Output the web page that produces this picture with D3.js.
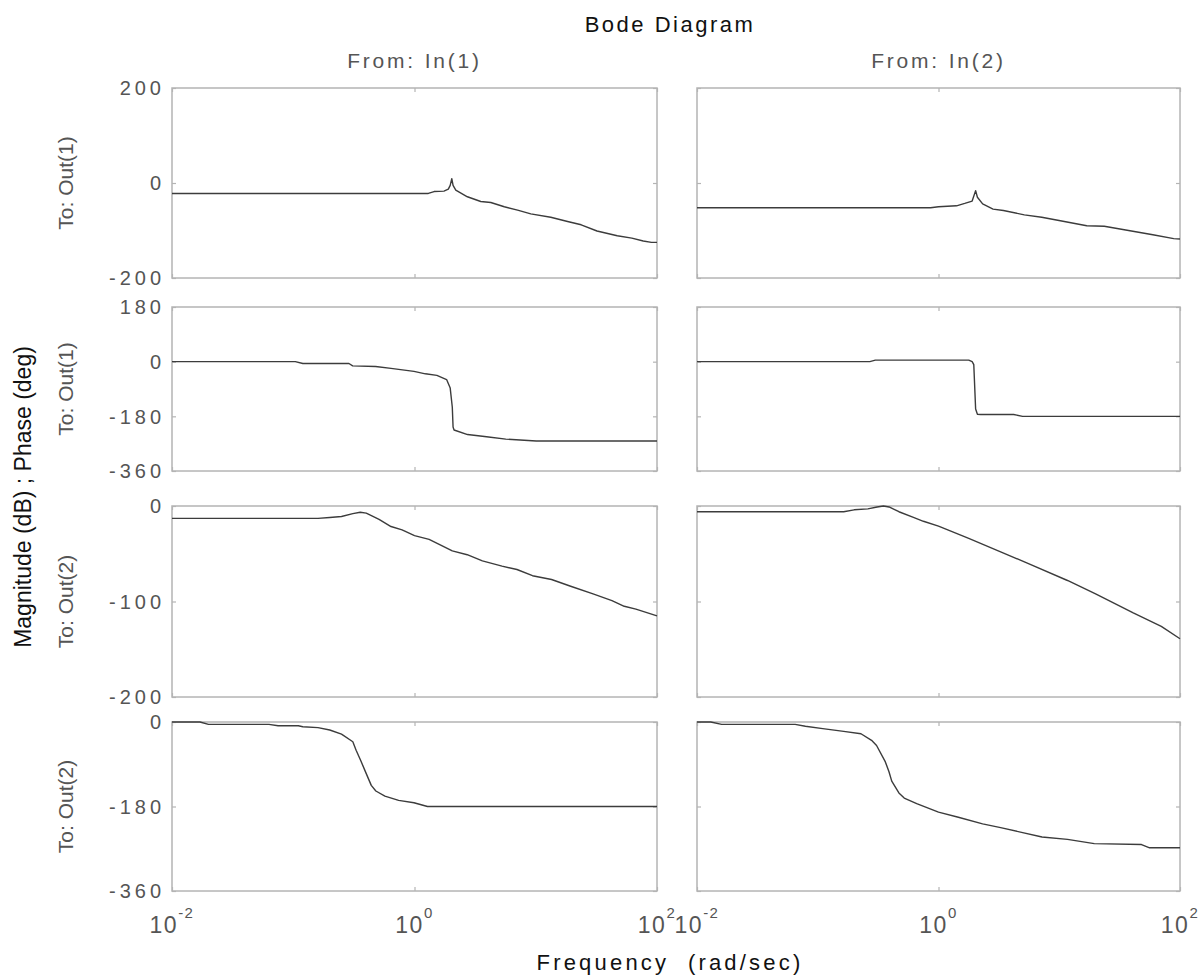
<!DOCTYPE html>
<html>
<head>
<meta charset="utf-8">
<script src="https://cdn.jsdelivr.net/npm/d3@7"></script>
<style>
  body { margin: 0; background: #fff; }
  svg { display: block; }
  text { font-family: "Liberation Sans", Arial, sans-serif; }
</style>
</head>
<body>
<svg id="chart" width="1202" height="978"></svg>
<script>
// Frequency axis (rad/sec), shared by all panels
const freqDomain = [0.01, 100];
const freqTicks = [0.01, 1, 100];
const freqExponents = ["-2", "0", "2"];

// Row / column headings
const inputNames = ["From: In(1)", "From: In(2)"];
const outputNames = ["To: Out(1)", "To: Out(1)", "To: Out(2)", "To: Out(2)"];

// Value ranges and tick values for each row (magnitude dB / phase deg)
const rowDomains = [[-200, 200], [-360, 180], [-200, 0], [-360, 0]];
const rowTicks = [[200, 0, -200], [180, 0, -180, -360], [0, -100, -200], [0, -180, -360]];

// In(1) -> Out(1): magnitude (dB)
const w11Mag = [0.01, 1.3, 1.45, 1.75, 1.9, 1.97, 2.03, 2.08, 2.19, 2.73, 3.52, 4.26, 5.5, 7.08, 9.1, 13.3, 18.3, 23.7, 32, 47, 62, 77, 90, 100];
const v11Mag = [-22, -22, -18, -17, -13, -5, 9, -5, -15, -29, -39, -41, -50, -57, -65, -72, -81, -88, -101, -111, -116, -122, -125, -125];

// In(1) -> Out(1): phase (deg)
const w11Ph = [0.01, 0.104, 0.12, 0.288, 0.309, 0.478, 0.64, 0.99, 1.23, 1.53, 1.84, 1.97, 2.05, 2.08, 2.12, 2.74, 3.93, 5.66, 10.1, 100];
const v11Ph = [0, 0, -6, -6, -14, -16, -22, -32, -40, -45, -59, -87, -150, -215, -225, -240, -247, -255, -261, -261];

// In(1) -> Out(2): magnitude (dB)
const w21Mag = [0.01, 0.16, 0.2, 0.25, 0.31, 0.357, 0.4, 0.51, 0.64, 0.79, 1.0, 1.32, 2.05, 2.72, 3.63, 5.27, 7.0, 9.4, 13.5, 19.4, 29.7, 42.5, 53.7, 67, 100];
const v21Mag = [-13, -13, -12, -11, -8, -6.5, -7.5, -14, -21.5, -25, -31, -35, -47, -51, -57.5, -63, -66.5, -73, -77, -84, -92, -99, -105, -108, -115];

// In(1) -> Out(2): phase (deg)
const w21Ph = [0.01, 0.017, 0.02, 0.063, 0.075, 0.11, 0.12, 0.16, 0.2, 0.25, 0.31, 0.33, 0.36, 0.4, 0.44, 0.48, 0.57, 0.74, 0.99, 1.28, 100];
const v21Ph = [0, 0, -5, -5, -8, -8, -10, -12, -17, -26, -42, -60, -82, -110, -135, -147, -158, -167, -172, -180, -180];

// In(2) -> Out(1): magnitude (dB)
const w12Mag = [0.01, 0.86, 1.0, 1.41, 1.65, 1.9, 2.03, 2.1, 2.32, 2.83, 3.45, 5.14, 7.16, 9.96, 16.9, 23.6, 37.5, 59.6, 88.7, 100];
const v12Mag = [-52, -52, -50, -48, -43, -38, -16, -30, -44, -55, -58, -67, -72, -79, -90, -91, -100, -109, -117, -118];

// In(2) -> Out(1): phase (deg)
const w12Ph = [0.01, 0.27, 0.3, 1.78, 1.9, 1.96, 2.03, 2.1, 2.24, 4.2, 4.97, 100];
const v12Ph = [0, 0, 5, 5, 0, -10, -156, -173, -174, -174, -180, -180];

// In(2) -> Out(2): magnitude (dB)
const w22Mag = [0.01, 0.164, 0.2, 0.26, 0.31, 0.35, 0.39, 0.47, 0.62, 0.75, 1.0, 1.78, 3.27, 5.5, 11.7, 20, 41, 70, 100];
const v22Mag = [-6, -6, -4, -3, -1, 0, -1, -6, -12, -16, -21, -34, -48, -60, -78, -92, -112, -126, -139];

// In(2) -> Out(2): phase (deg)
const w22Ph = [0.01, 0.013, 0.016, 0.065, 0.079, 0.11, 0.164, 0.228, 0.279, 0.307, 0.363, 0.389, 0.41, 0.47, 0.52, 0.66, 1.0, 1.46, 2.32, 3.27, 7.2, 11.7, 19.5, 48, 56, 100];
const v22Ph = [0, 0, -5, -5, -9, -14, -20, -25, -39, -50, -85, -106, -126, -151, -162, -174, -192, -203, -217, -225, -245, -250, -259, -261, -268, -268];

// Grid of responses: rows = [Out1 mag, Out1 phase, Out2 mag, Out2 phase], cols = [In1, In2]
const grid = [
  [[w11Mag, v11Mag], [w12Mag, v12Mag]],
  [[w11Ph, v11Ph], [w12Ph, v12Ph]],
  [[w21Mag, v21Mag], [w22Mag, v22Mag]],
  [[w21Ph, v21Ph], [w22Ph, v22Ph]]
];

// Panel placement
const colX = [[172, 657], [697, 1180]];
const rowY = [[88, 278], [307, 471], [506, 697], [722, 891]];

const frameColor = "#b4b4b4";
const lineColor = "#3c3c3c";
const labelGray = "#555";

const svg = d3.select("#chart");
svg.append("rect").attr("width", 1202).attr("height", 978).attr("fill", "#fff");

const xScales = colX.map(([a, b]) => d3.scaleLog().domain(freqDomain).range([a, b]));

rowY.forEach(([top, bottom], r) => {
  const y = d3.scaleLinear().domain(rowDomains[r]).range([bottom, top]);

  colX.forEach(([left, right], c) => {
    const x = xScales[c];
    const g = svg.append("g");

    // inward ticks on all four sides
    const styleAxis = sel => {
      sel.select(".domain").remove();
      sel.selectAll(".tick line").attr("stroke", frameColor).attr("stroke-width", 1.2);
      sel.selectAll(".tick text").remove();
    };
    g.append("g").attr("transform", `translate(${left},0)`)
      .call(d3.axisLeft(y).tickValues(rowTicks[r]).tickSize(-4)).call(styleAxis);
    g.append("g").attr("transform", `translate(${right},0)`)
      .call(d3.axisRight(y).tickValues(rowTicks[r]).tickSize(-4)).call(styleAxis);
    g.append("g").attr("transform", `translate(0,${top})`)
      .call(d3.axisTop(x).tickValues(freqTicks).tickSize(-4)).call(styleAxis);
    g.append("g").attr("transform", `translate(0,${bottom})`)
      .call(d3.axisBottom(x).tickValues(freqTicks).tickSize(-4)).call(styleAxis);

    // frame
    g.append("rect")
      .attr("x", left).attr("y", top)
      .attr("width", right - left).attr("height", bottom - top)
      .attr("fill", "none").attr("stroke", frameColor).attr("stroke-width", 1.5);

    // response curve
    const [ws, vs] = grid[r][c];
    const pts = ws.map((w, i) => [w, vs[i]]);
    g.append("path")
      .datum(pts)
      .attr("fill", "none")
      .attr("stroke", lineColor)
      .attr("stroke-width", 1.4)
      .attr("stroke-linejoin", "round")
      .attr("d", d3.line().x(d => x(d[0])).y(d => y(d[1])));

    // y tick labels on the left column only
    if (c === 0) {
      g.selectAll("text.ylab")
        .data(rowTicks[r])
        .join("text")
        .attr("class", "ylab")
        .attr("x", left - 7)
        .attr("y", d => y(d))
        .attr("dy", "0.36em")
        .attr("text-anchor", "end")
        .attr("font-size", 20)
        .attr("letter-spacing", 4)
        .attr("fill", labelGray)
        .text(d => d);
    }

    // frequency labels under the bottom row
    if (r === rowY.length - 1) {
      freqTicks.forEach((t, i) => {
        const tx = g.append("text")
          .attr("x", x(t))
          .attr("y", 933)
          .attr("text-anchor", "middle")
          .attr("fill", labelGray)
          .attr("font-size", 23)
          .attr("letter-spacing", 1.5);
        tx.append("tspan").text("10");
        tx.append("tspan").attr("dy", -15).attr("font-size", 15).text(freqExponents[i]);
      });
    }
  });

  // output name at the left of each row
  const cy = (top + bottom) / 2;
  svg.append("text")
    .attr("transform", `translate(73,${cy}) rotate(-90)`)
    .attr("text-anchor", "middle")
    .attr("font-size", 21)
    .attr("fill", labelGray)
    .text(outputNames[r]);
});

// input names above each column
colX.forEach(([a, b], c) => {
  svg.append("text")
    .attr("x", (a + b) / 2)
    .attr("y", 68)
    .attr("text-anchor", "middle")
    .attr("font-size", 21)
    .attr("letter-spacing", 2.8)
    .attr("fill", labelGray)
    .text(inputNames[c]);
});

// Title
svg.append("text")
  .attr("x", 670).attr("y", 32)
  .attr("text-anchor", "middle")
  .attr("font-size", 22)
  .attr("letter-spacing", 2.5)
  .attr("fill", "#111")
  .text("Bode Diagram");

// x axis label
svg.append("text")
  .attr("x", 670).attr("y", 970)
  .attr("text-anchor", "middle")
  .attr("font-size", 22)
  .attr("letter-spacing", 3.2)
  .attr("fill", "#111")
  .attr("xml:space", "preserve")
  .style("white-space", "pre")
  .text("Frequency  (rad/sec)");

// y axis label
svg.append("text")
  .attr("transform", "translate(31,497) rotate(-90)")
  .attr("text-anchor", "middle")
  .attr("font-size", 23)
  .attr("fill", "#111")
  .text("Magnitude (dB) ; Phase (deg)");
</script>
</body>
</html>
